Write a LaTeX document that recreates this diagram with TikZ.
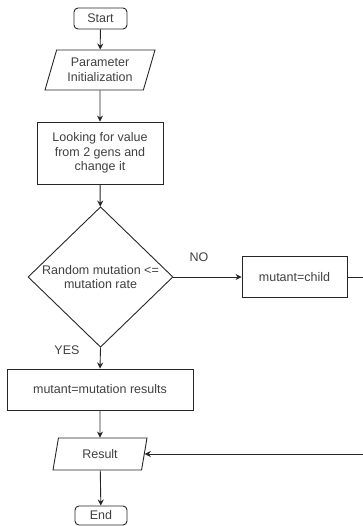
\documentclass[tikz,border=0pt]{standalone}
\usepackage{fontspec}
\setmainfont{Liberation Sans}
\usetikzlibrary{shapes.geometric, arrows.meta}

\begin{document}
\begin{tikzpicture}[x=1pt, y=-1pt,
    every node/.style={font=\fontsize{12.5}{14.5}\selectfont, text=black!75},
    linea/.style={line width=0.9pt, draw=black!85},
    freccia/.style={linea, -{Stealth[length=6pt, width=6pt]}},
    terminale/.style={linea, rounded corners=4pt, inner sep=0pt},
    blocco/.style={linea, inner sep=0pt, align=center},
    dato/.style={linea, trapezium, trapezium stretches body, inner sep=0pt, align=center},
    scelta/.style={linea, diamond, inner sep=0pt, align=center}]
    % Area del disegno (margini come nel riferimento)
    \useasboundingbox (0,0) rectangle (363,526);

    % Inizio e inizializzazione
    \node[terminale, minimum width=53pt, minimum height=21pt] (start) at (100.5,18.5) {Start};
    \node[dato, trapezium left angle=63.4, trapezium right angle=116.6,
          minimum width=110pt, minimum height=40pt] (param) at (100,70) {Parameter\\Initialization};

    % Ricerca del valore
    \node[blocco, minimum width=126pt, minimum height=62pt] (cerca) at (100,153) {Looking for value\\from 2 gens and\\change it};

    % Decisione sulla mutazione
    \node[scelta, minimum width=145pt, minimum height=123pt] (decisione) at (100.5,277) {Random mutation <=\\mutation rate};
    \node[blocco, minimum width=105pt, minimum height=41pt] (figlio) at (294.5,277) {mutant=child};
    \node[blocco, minimum width=186pt, minimum height=41pt] (mutato) at (100,389.5) {mutant=mutation results};

    % Risultato e fine
    \node[dato, trapezium left angle=59.3, trapezium right angle=120.7,
          minimum width=94pt, minimum height=32pt] (risultato) at (100,454) {Result};
    \node[terminale, minimum width=52pt, minimum height=19pt] (fine) at (101,515.5) {End};

    % Etichette dei rami
    \node (no) at (199,257) {NO};
    \node (si) at (67,350) {YES};

    % Collegamenti
    \draw[freccia] (start) -- (param);
    \draw[freccia] (param) -- (cerca);
    \draw[freccia] (cerca) -- (decisione);
    \draw[freccia] (decisione.east) -- (figlio.west);
    \draw[freccia] (decisione.south) -- (mutato.north);
    \draw[freccia] (mutato) -- (risultato);
    \draw[freccia] (risultato) -- (fine);

    % Ritorno dal ramo NO (la linea verticale cade fuori dal bordo)
    \coordinate (bordo) at (366,0);
    \draw[freccia] (figlio.east) -| (bordo |- risultato.east) -- (risultato.east);
\end{tikzpicture}
\end{document}
